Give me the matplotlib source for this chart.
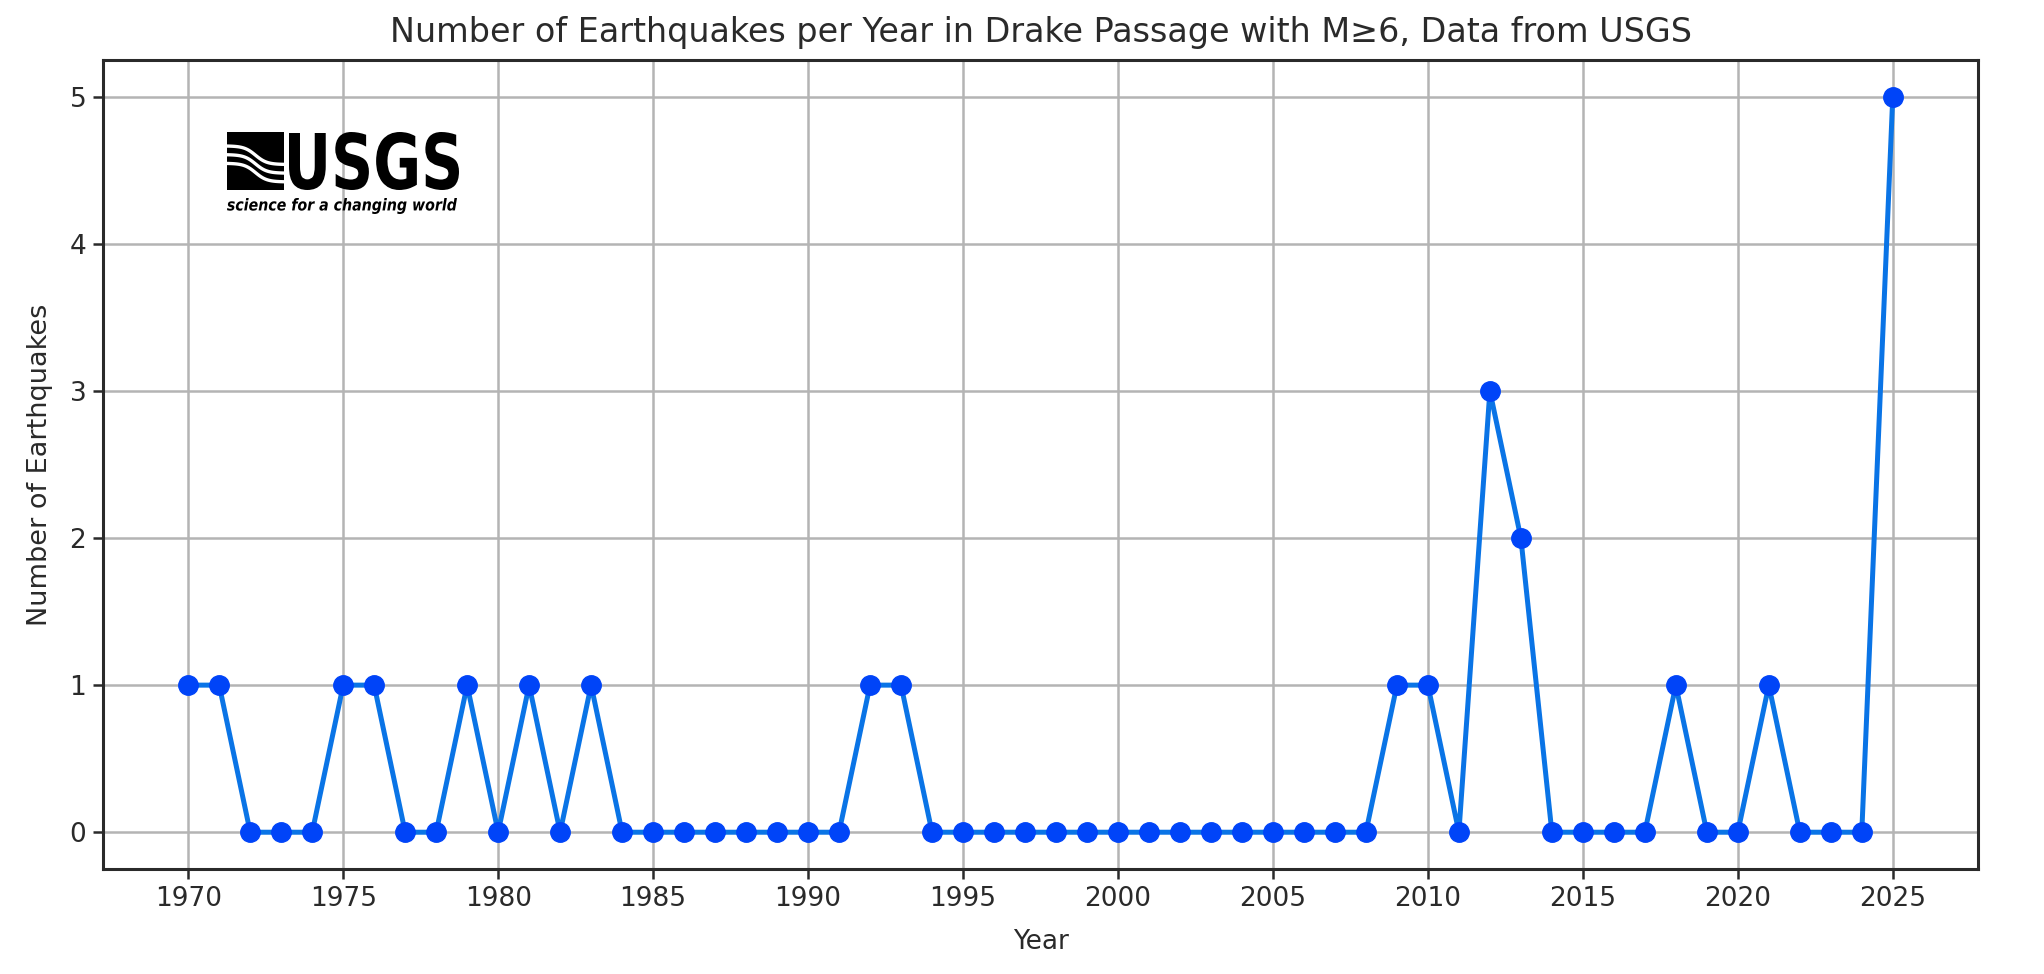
import numpy as np
import matplotlib
matplotlib.use("Agg")
import matplotlib.pyplot as plt
from matplotlib.textpath import TextPath
from matplotlib.font_manager import FontProperties
from matplotlib.patches import PathPatch, Rectangle
from matplotlib.transforms import Affine2D, IdentityTransform

years = list(range(1970, 2026))
counts = [1, 1, 0, 0, 0, 1, 1, 0, 0, 1,
          0, 1, 0, 1, 0, 0, 0, 0, 0, 0,
          0, 0, 1, 1, 0, 0, 0, 0, 0, 0,
          0, 0, 0, 0, 0, 0, 0, 0, 0, 1,
          1, 0, 3, 2, 0, 0, 0, 0, 1, 0,
          0, 1, 0, 0, 0, 5]
xticks = list(range(1970, 2026, 5))
yticks = [0, 1, 2, 3, 4, 5]

W, H = 2044, 974
fig = plt.figure(figsize=(W / 100, H / 100), dpi=100)
ax = fig.add_axes([103 / W, 1 - 869 / H, (1978 - 103) / W, (869 - 60) / H])

ax.plot(years, counts, color="#0a74e6", lw=3.6, marker="o", markersize=14,
        markerfacecolor="#0044f8", markeredgecolor="#0044f8", zorder=3)
ax.set_xticks(xticks)
ax.set_yticks(yticks)
ax.grid(True, color="#b4b4b4", lw=1.8)
ax.set_axisbelow(True)
ax.tick_params(labelsize=19, length=7, width=1.8, colors="#2a2a2a", pad=5)
for s in ax.spines.values():
    s.set_linewidth(2.2)
    s.set_color("#2a2a2a")
ax.set_title("Number of Earthquakes per Year in Drake Passage with M≥6, Data from USGS",
             fontsize=24, color="#2a2a2a", pad=13)
ax.set_xlabel("Year", fontsize=19, color="#2a2a2a")
ax.set_ylabel("Number of Earthquakes", fontsize=19.5, color="#2a2a2a")
ax.yaxis.set_label_coords(-(103 - 53) / (1978 - 103), 0.5)
ax.xaxis.set_label_coords(0.5, -(929 - 869) / (869 - 60))

# USGS logo (decorative), drawn in display pixels (origin bottom-left)
tr = IdentityTransform()
def place_text(s, x0, ytop, x1, ybot, prop):
    tp = TextPath((0, 0), s, size=100, prop=prop)
    bb = tp.get_extents()
    sx = (x1 - x0) / bb.width
    sy = (ybot - ytop) / bb.height
    t = Affine2D().translate(-bb.x0, -bb.y0).scale(sx, sy).translate(x0, H - ybot)
    fig.patches.append(PathPatch(t.transform_path(tp), fc="black", ec="none",
                                 transform=tr, figure=fig, zorder=10))

bold = FontProperties(family="DejaVu Sans", weight="bold")
ital = FontProperties(family="DejaVu Sans", weight="bold", style="italic")
bx0, bx1, byt, byb = 227, 284, 132, 190
fig.patches.append(Rectangle((bx0, H - byb), bx1 - bx0, byb - byt, fc="black", ec="none",
                             transform=tr, figure=fig, zorder=10))
tt = np.linspace(0, 1, 60)
for off in [0.30, 0.45, 0.60]:
    xs = bx0 + tt * (bx1 - bx0)
    ys = (H - byb) + (byb - byt) * (off - 0.16 * np.tanh((tt - 0.5) * 5))
    fig.lines.append(plt.Line2D(xs, ys, color="white", lw=2.4, transform=tr,
                                figure=fig, zorder=11))
place_text("USGS", 289, 132, 459, 190, bold)
place_text("science for a changing world", 227, 198, 457, 214, ital)

fig.savefig("out.png", dpi=100, facecolor="white")
